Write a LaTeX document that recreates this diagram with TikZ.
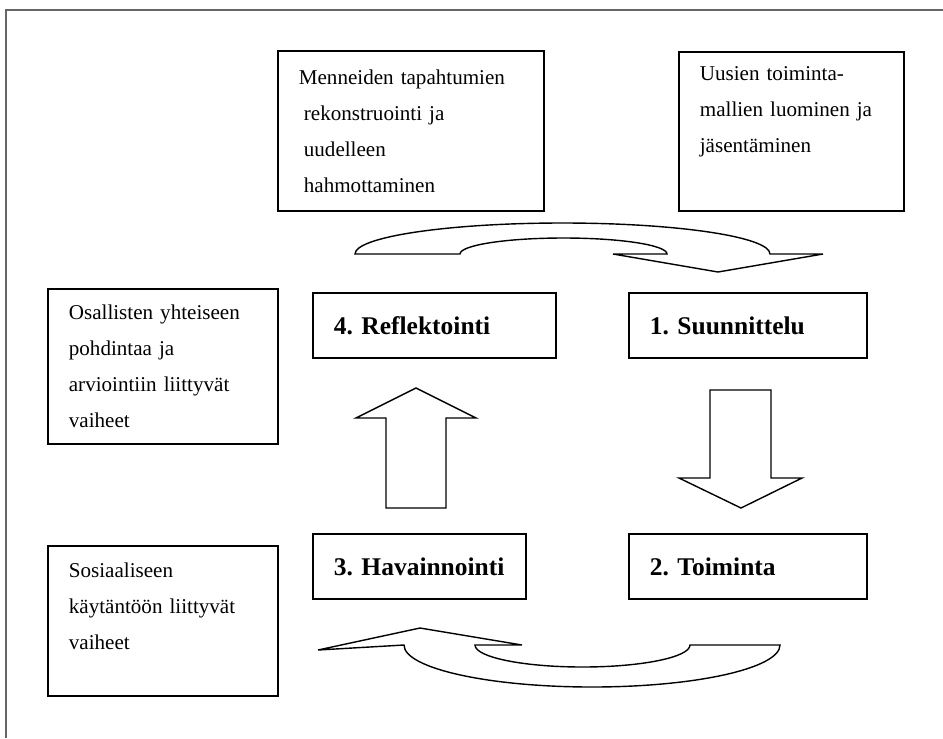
\documentclass[tikz,border=0pt]{standalone}
\usepackage{fontspec}
\setmainfont{Liberation Serif}
\frenchspacing
\begin{document}
\begin{tikzpicture}[
		x=0.02cm, y=-0.02cm,
		note box/.style={draw, line width=1pt, anchor=north west, align=left, inner xsep=0.42cm, inner ysep=0pt, font=\fontsize{12}{20.5}\selectfont},
		stage box/.style={draw, line width=1pt, anchor=north west, align=left, inner xsep=0.42cm, minimum height=1.3cm, font=\fontsize{14.5}{18}\selectfont\bfseries},
		block arrow/.style={draw, line width=0.8pt, fill=white, line join=miter}
	]
		\useasboundingbox (0,0) rectangle (943,738);
		\draw[black!60, line width=1.2pt] (943,10) -- (6,10) -- (6,738);

		\node[note box, text width=4.48cm, minimum height=3.2cm] (past) at (277,50) {Menneiden tapahtumien\\ \hspace*{0.1cm}rekonstruointi ja\\ \hspace*{0.1cm}uudelleen\\ \hspace*{0.1cm}hahmottaminen};
		\node[note box, text width=3.66cm, minimum height=3.18cm, text depth=66pt] (future) at (678,51) {Uusien toiminta-\\mallien luominen ja\\jäsentäminen};
		\node[note box, text width=3.76cm, minimum height=3.1cm] (reflphase) at (47,288) {Osallisten yhteiseen\\pohdintaa ja\\arviointiin liittyvät\\vaiheet};
		\node[note box, text width=3.76cm, minimum height=3cm, text depth=58pt] (socphase) at (47,545) {Sosiaaliseen\\käytäntöön liittyvät\\vaiheet};

		\node[stage box, text width=4.02cm] (refl) at (312,292) {4. Reflektointi};
		\node[stage box, text width=3.92cm] (plan) at (628,292) {1. Suunnittelu};
		\node[stage box, text width=3.42cm] (obs) at (312,533) {\mbox{3. Havainnointi}};
		\node[stage box, text width=3.92cm] (act) at (628,533) {2. Toiminta};

		% up and down
		\draw[block arrow] (386,508) -- (386,418) -- (356,418) -- (416,388) -- (476,418) -- (446,418) -- (446,508) -- cycle;
		\draw[block arrow] (710,390) -- (771,390) -- (771,478) -- (802,478) -- (741,508) -- (679,478) -- (710,478) -- cycle;

		% curved ones
		\draw[block arrow] (355,254) arc[start angle=180, end angle=360, x radius=207.5, y radius=31] -- (823,254) -- (718,272) -- (613,254) -- (667,254) arc[start angle=0, end angle=-180, x radius=103.5, y radius=16] -- cycle;
		\draw[block arrow] (780,645) arc[start angle=0, end angle=180, x radius=188, y radius=42] -- (318,650) -- (420,628) -- (522,645) -- (475,645) arc[start angle=180, end angle=0, x radius=107.5, y radius=22] -- cycle;
\end{tikzpicture}
\end{document}
